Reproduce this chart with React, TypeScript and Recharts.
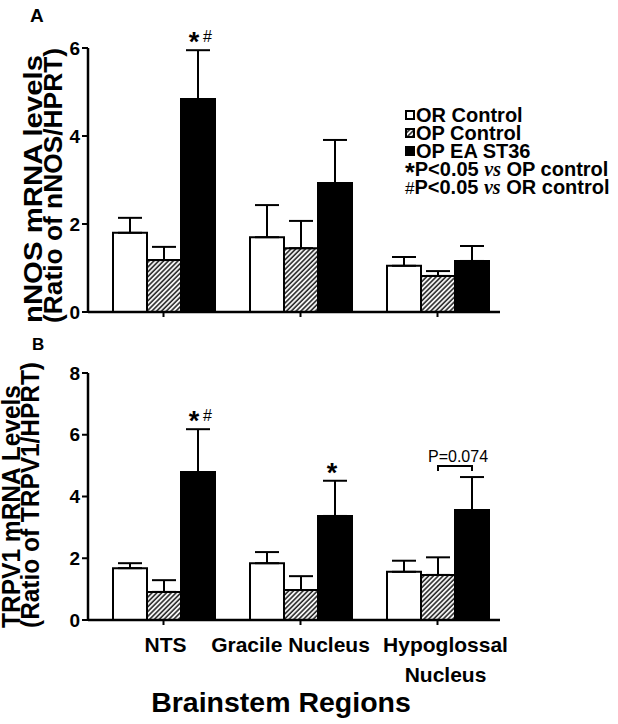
import { BarChart, Bar, XAxis, YAxis, ErrorBar, LabelList, Legend } from "recharts";

const FONT = "'Liberation Sans', Arial, Helvetica, sans-serif";

const regions = ["NTS", "Gracile Nucleus", "Hypoglossal\nNucleus"];
const seriesNames = ["OR Control", "OP Control", "OP EA ST36"];

// A: nNOS mRNA (ratio of nNOS/HPRT), mean and SEM
const nosOrControl = [1.8, 1.7, 1.05];
const nosOpControl = [1.18, 1.45, 0.82];
const nosOpEa = [4.84, 2.93, 1.16];
const nosOrControlSem = [0.34, 0.73, 0.2];
const nosOpControlSem = [0.3, 0.62, 0.11];
const nosOpEaSem = [1.11, 0.98, 0.34];
const nosMarks = ["*#", "", ""];
const nosTicks = [0, 2, 4, 6];

// B: TRPV1 mRNA (ratio of TRPV1/HPRT), mean and SEM
const trpOrControl = [1.68, 1.84, 1.56];
const trpOpControl = [0.91, 0.97, 1.46];
const trpOpEa = [4.79, 3.37, 3.56];
const trpOrControlSem = [0.16, 0.36, 0.36];
const trpOpControlSem = [0.38, 0.45, 0.57];
const trpOpEaSem = [1.39, 1.14, 1.07];
const trpMarks = ["*#", "*", ""];
const trpNotes = ["", "", "P=0.074"];
const trpTicks = [0, 2, 4, 6, 8];

const buildRows = (
  or: number[], op: number[], ea: number[],
  orSem: number[], opSem: number[], eaSem: number[],
  marks: string[], notes?: string[]
) =>
  regions.map((region, i) => ({
    region,
    or: or[i],
    op: op[i],
    ea: ea[i],
    // upward-only error bars
    orErr: [0, orSem[i]],
    opErr: [0, opSem[i]],
    eaErr: [0, eaSem[i]],
    mark: marks[i],
    note: notes ? notes[i] : "",
  }));

const nosRows = buildRows(nosOrControl, nosOpControl, nosOpEa, nosOrControlSem, nosOpControlSem, nosOpEaSem, nosMarks);
const trpRows = buildRows(trpOrControl, trpOpControl, trpOpEa, trpOrControlSem, trpOpControlSem, trpOpEaSem, trpMarks, trpNotes);

const Hatch = ({ id }: { id: string }) => (
  <defs>
    <pattern id={id} width={3.4} height={3.4} patternUnits="userSpaceOnUse" patternTransform="rotate(45)">
      <rect width={3.4} height={3.4} fill="#fff" />
      <line x1={1} y1={0} x2={1} y2={3.4} stroke="#222" strokeWidth={1.6} />
    </pattern>
  </defs>
);

const markLabel = (means: number[], sems: number[]) => (props: any) => {
  const { index, value } = props;
  if (!value) return null;
  const box = props.viewBox ?? props;
  const { x, y, width, height } = box;
  const top = y - (sems[index] / means[index]) * height;
  const cx = x + width / 2;
  const cy = top - 14;
  const star = value.includes("*");
  const hash = value.includes("#");
  return (
    <g fontFamily={FONT} fill="#000">
      {star && (
        <text x={cx - (hash ? 4 : 3)} y={cy + 15} textAnchor="middle" fontSize={27} fontWeight="bold">
          *
        </text>
      )}
      {hash && (
        <text x={cx + 9.5} y={cy + 6} textAnchor="middle" fontSize={16}>
          #
        </text>
      )}
    </g>
  );
};

const noteLabel = (means: number[], sems: number[]) => (props: any) => {
  const { index, value } = props;
  if (!value) return null;
  const box = props.viewBox ?? props;
  const { x, y, width, height } = box;
  const top = y - (sems[index] / means[index]) * height;
  const by = top - 11;
  const left = x - width / 2;
  const right = x + width / 2;
  return (
    <g>
      <path d={`M${left},${by + 5}V${by}H${right}V${by + 5}`} fill="none" stroke="#000" strokeWidth={2} />
      <text x={x + 3} y={by - 4} textAnchor="middle" fontSize={16} fontFamily={FONT} fill="#000">
        {value}
      </text>
    </g>
  );
};

const yTitle = (lines: string[], xs: number[], bottom: number, lens: number[], size: number) => () => (
  <g>
    {lines.map((t, i) => (
      <text
        key={t}
        transform={`translate(${xs[i]},${bottom}) rotate(-90)`}
        textLength={lens[i]}
        lengthAdjust="spacingAndGlyphs"
        fontSize={size}
        fontWeight="bold"
        fontFamily={FONT}
        fill="#000"
      >
        {t}
      </text>
    ))}
  </g>
);

const nosTitle = yTitle(["nNOS mRNA levels", "(Ratio of nNOS/HPRT)"], [42, 61.5], 323, [268, 275], 26);
const trpTitle = yTitle(["TRPV1 mRNA Levels", "(Ratio of TRPV1/HPRT)"], [19.5, 38.5], 298, [243, 266], 25);

const brainstemTitle = () => (
  <text x={281} y={382} textAnchor="middle" fontSize={28.5} fontWeight="bold" fontFamily={FONT} fill="#000">
    Brainstem Regions
  </text>
);

const TICK_NUDGE = [2, -10, 8];

const RegionTick = (props: any) => {
  const { x, y, payload, index } = props;
  const lines = String(payload.value).split("\n");
  const dx = TICK_NUDGE[index] ?? 0;
  return (
    <g>
      {lines.map((l, i) => (
        <text
          key={l}
          x={x + dx}
          y={y + 25 + i * 30}
          textAnchor="middle"
          fontSize={21}
          fontWeight="bold"
          fontFamily={FONT}
          fill="#000"
        >
          {l}
        </text>
      ))}
    </g>
  );
};

const swatch = (i: number) => {
  const fill = i === 0 ? "#fff" : i === 1 ? "url(#hatchA)" : "#000";
  return (
    <svg width={10} height={10} style={{ marginRight: 1 }}>
      <rect x={1} y={1} width={8} height={8} fill={fill} stroke="#000" strokeWidth={2} />
    </svg>
  );
};

const LegendBox = () => (
  <div style={{ fontFamily: FONT, fontWeight: "bold", fontSize: 20, lineHeight: "18px", color: "#000", whiteSpace: "nowrap" }}>
    {seriesNames.map((name, i) => (
      <div key={name} style={{ display: "flex", alignItems: "center" }}>
        {swatch(i)}
        {name}
      </div>
    ))}
    <div>
      <span style={{ fontSize: 25, position: "relative", top: 5, lineHeight: 0 }}>*</span>P&lt;0.05{" "}
      <i style={{ fontFamily: "'Liberation Serif', serif" }}>vs</i> OP control
    </div>
    <div>
      <span style={{ fontWeight: "normal", fontSize: 17 }}>#</span>P&lt;0.05{" "}
      <i style={{ fontFamily: "'Liberation Serif', serif" }}>vs</i> OR control
    </div>
  </div>
);

const axisLine = { stroke: "#000", strokeWidth: 2.5 };
const tickLine = { stroke: "#000", strokeWidth: 2 };
const yTick = { fill: "#000", fontSize: 19, fontWeight: 700, fontFamily: FONT };

const App = () => {
  return (
    <div style={{ position: "absolute", left: 0, top: 0, width: 618, height: 724, background: "#fff", fontFamily: FONT }}>
      <div style={{ position: "absolute", left: 30, top: 6, fontSize: 19, fontWeight: "bold", lineHeight: "19px" }}>A</div>
      <div style={{ position: "absolute", left: 32, top: 336, fontSize: 17, fontWeight: "bold", lineHeight: "17px" }}>B</div>

      <div style={{ position: "absolute", left: 0, top: 0 }}>
        <BarChart
          width={618}
          height={340}
          data={nosRows}
          margin={{ top: 48, right: 118, bottom: 0, left: 0 }}
          barSize={34}
          barGap={0}
        >
          <Hatch id="hatchA" />
          <XAxis
            dataKey="region"
            height={28}
            interval={0}
            padding={{ left: 7, right: -6 }}
            axisLine={axisLine}
            tickLine={tickLine}
            tickSize={5}
            tick={() => <g />}
          />
          <YAxis
            width={88}
            domain={[0, 6]}
            ticks={nosTicks}
            axisLine={axisLine}
            tickLine={tickLine}
            tickSize={6}
            tick={yTick}
            label={nosTitle}
          />
          <Legend
            layout="vertical"
            align="center"
            verticalAlign="middle"
            wrapperStyle={{ left: 405, top: 106, width: "auto" }}
            content={LegendBox}
          />
          <Bar dataKey="or" name={seriesNames[0]} fill="#fff" stroke="#000" strokeWidth={2} isAnimationActive={false}>
            <ErrorBar dataKey="orErr" width={12} stroke="#000" strokeWidth={2} direction="y" />
          </Bar>
          <Bar dataKey="op" name={seriesNames[1]} fill="url(#hatchA)" stroke="#000" strokeWidth={2} isAnimationActive={false}>
            <ErrorBar dataKey="opErr" width={12} stroke="#000" strokeWidth={2} direction="y" />
          </Bar>
          <Bar dataKey="ea" name={seriesNames[2]} fill="#000" stroke="#000" strokeWidth={2} isAnimationActive={false}>
            <ErrorBar dataKey="eaErr" width={12} stroke="#000" strokeWidth={2} direction="y" />
            <LabelList dataKey="mark" content={markLabel(nosOpEa, nosOpEaSem)} />
          </Bar>
        </BarChart>
      </div>

      <div style={{ position: "absolute", left: 0, top: 330 }}>
        <BarChart
          width={618}
          height={394}
          data={trpRows}
          margin={{ top: 43, right: 118, bottom: 0, left: 0 }}
          barSize={34}
          barGap={0}
        >
          <Hatch id="hatchB" />
          <XAxis
            dataKey="region"
            height={104}
            interval={0}
            padding={{ left: 7, right: -6 }}
            axisLine={axisLine}
            tickLine={tickLine}
            tickSize={5}
            tick={RegionTick}
            label={brainstemTitle}
          />
          <YAxis
            width={88}
            domain={[0, 8]}
            ticks={trpTicks}
            axisLine={axisLine}
            tickLine={tickLine}
            tickSize={6}
            tick={yTick}
            label={trpTitle}
          />
          <Bar dataKey="or" name={seriesNames[0]} fill="#fff" stroke="#000" strokeWidth={2} isAnimationActive={false}>
            <ErrorBar dataKey="orErr" width={12} stroke="#000" strokeWidth={2} direction="y" />
          </Bar>
          <Bar dataKey="op" name={seriesNames[1]} fill="url(#hatchB)" stroke="#000" strokeWidth={2} isAnimationActive={false}>
            <ErrorBar dataKey="opErr" width={12} stroke="#000" strokeWidth={2} direction="y" />
          </Bar>
          <Bar dataKey="ea" name={seriesNames[2]} fill="#000" stroke="#000" strokeWidth={2} isAnimationActive={false}>
            <ErrorBar dataKey="eaErr" width={12} stroke="#000" strokeWidth={2} direction="y" />
            <LabelList dataKey="mark" content={markLabel(trpOpEa, trpOpEaSem)} />
            <LabelList dataKey="note" content={noteLabel(trpOpEa, trpOpEaSem)} />
          </Bar>
        </BarChart>
      </div>
    </div>
  );
};

export default App;
